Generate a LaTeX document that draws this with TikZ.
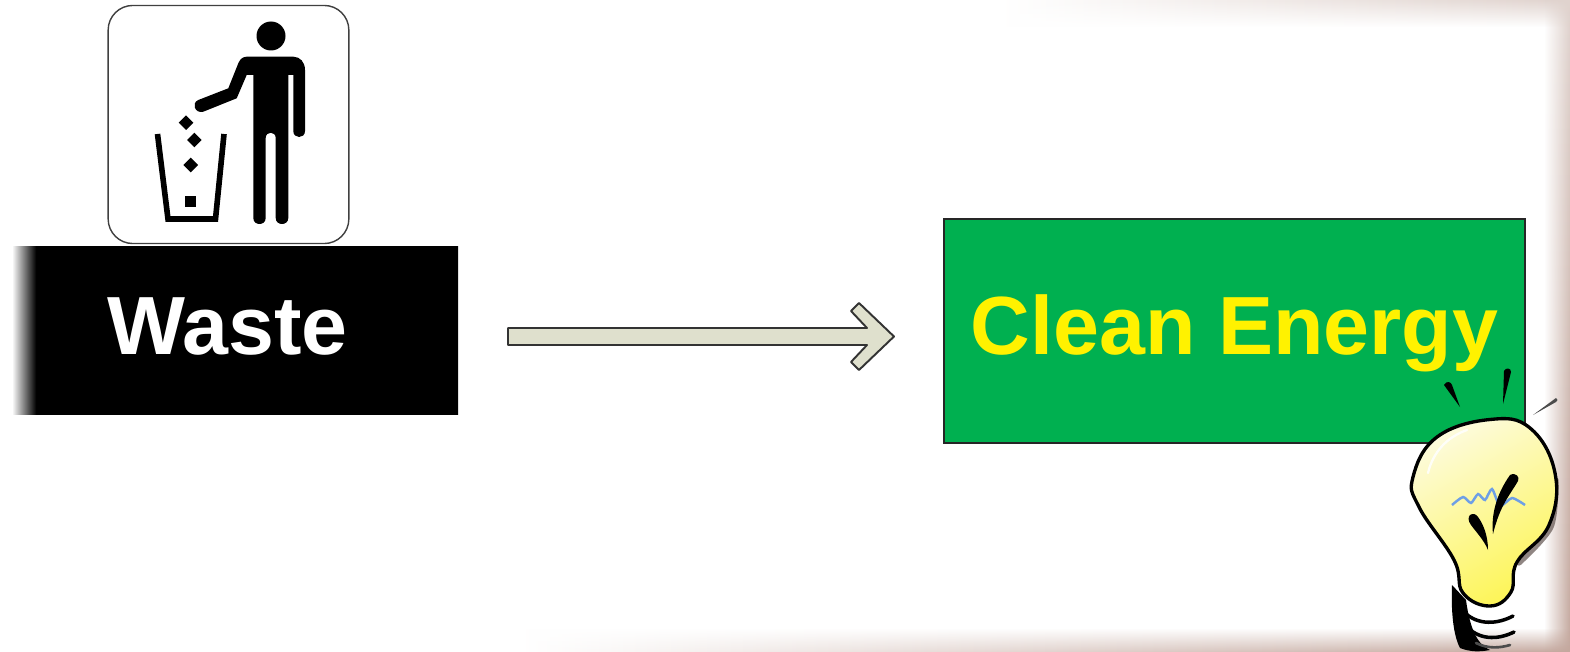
\documentclass[tikz,border=0pt]{standalone}
\usepackage{fontspec}
\setmainfont{Liberation Sans}
\usetikzlibrary{arrows.meta,positioning,fadings}
\definecolor{framebrown}{HTML}{C4A89E}
\definecolor{framepale}{HTML}{E0D3CE}
\definecolor{energygreen}{HTML}{00B050}
\definecolor{arrowfill}{HTML}{DFE0CD}
\definecolor{bulbpale}{HTML}{FDFBDC}
\definecolor{bulbyellow}{HTML}{FDF557}
\definecolor{sparkblue}{HTML}{6E9FE6}
\tikzfading[name=fadeleft,left color=transparent!100,right color=transparent!0]
\tikzfading[name=fadedown,top color=transparent!100,bottom color=transparent!0]
\tikzfading[name=fadeup,top color=transparent!0,bottom color=transparent!100]
\pgfdeclarehorizontalshading{wasteshade}{100bp}{color(0bp)=(white); color(25bp)=(white); color(27.7bp)=(black); color(100bp)=(black)}

\begin{document}
\begin{tikzpicture}[x=0.02cm,y=-0.02cm]
\tikzset{
  labelfont/.style={font=\fontsize{47}{50}\selectfont\bfseries},
  signbox/.style={rectangle,draw=black!75,fill=white,line width=0.8pt,rounded corners=14pt,minimum width=137pt,minimum height=135.5pt,inner sep=0pt},
  wastelabel/.style={labelfont,text=white,anchor=base,inner sep=0pt},
  energybox/.style={rectangle,draw=black!85,fill=energygreen,line width=0.9pt,minimum width=331pt,minimum height=127.5pt,inner sep=0pt,labelfont,text=yellow,text height=37pt,text depth=9.7pt},
  flowarrow/.style={draw=black!80,fill=arrowfill,line width=1.1pt,line join=round},
  pictogram/.style={fill=black,line join=round},
  ray/.style={fill=black}
}
\fill[white] (0,0) rectangle (1570,652);
\useasboundingbox (0,0) rectangle (1570,652);
% soft frame
\shade[left color=white,right color=framepale,path fading=fadeup] (1000,0) rectangle (1570,27);
\shade[left color=white,right color=framebrown,path fading=fadedown] (520,628) rectangle (1570,652);
\shade[top color=framepale,bottom color=framebrown,path fading=fadeleft] (1544,0) rectangle (1570,652);
% sign
\node[signbox] (n_sign) at (228.5,124.5) {};
\fill[pictogram] (271,36) circle (14.5);
\fill[pictogram] (246.7,56.7) -- (293.3,56.7) .. controls (300,56.7) and (305,62) .. (305,70) -- (305,131) .. controls (305,139) and (293.3,139) .. (293.3,131) -- (293.3,75) -- (288.3,75) -- (288.3,218) .. controls (288.3,226) and (275.7,226) .. (275.7,218) -- (275.7,138) .. controls (275.7,131) and (265.7,131) .. (265.7,138) -- (265.7,218) .. controls (265.7,226) and (253.3,226) .. (253.3,218) -- (253.3,75) -- (246.7,75) -- (236.7,98.3) -- (203.3,111.7) .. controls (195,114) and (191,103) .. (198.3,100) -- (228.3,88.3) -- (238.3,63.3) .. controls (240,59) and (243,56.7) .. (246.7,56.7) -- cycle;
\draw[line width=3.2pt,line join=miter] (157.5,134) -- (168,219) -- (215.5,219) -- (224,134);
\foreach \cx/\cy in {186/122.7,194.3/140,190.7/165}
  \fill[pictogram] (\cx-7.3,\cy) -- (\cx,\cy-7.3) -- (\cx+7.3,\cy) -- (\cx,\cy+7.3) -- cycle;
\fill[pictogram] (184.5,196.5) rectangle (195.5,207.5);
% waste
\shade[shading=wasteshade] (12,246) rectangle (458,414);
\node[wastelabel] (n_waste) at (227.5,354) {Waste};
% energy
\node[energybox] (n_energy) at (1234.5,331) {Clean Energy};
% arrow
\coordinate (c_tail) at (508,336.5);
\coordinate (c_tip) at (894,336.5);
\draw[flowarrow] (c_tail) ++(0,-8.5) -- ++(359,0) -- ++(-16,-17) -- ++(8,-8) -- (c_tip) -- ++(-35,33.5) -- ++(-8,-8) -- ++(16,-17) -- ++(-359,0) -- cycle;
% bulb
\fill[ray] (1444,385) .. controls (1447,380) and (1451,382) .. (1452,385) -- (1460,407) -- cycle;
\fill[ray] (1504,371) .. controls (1506,367) and (1511,368) .. (1511,372) -- (1503,404) -- cycle;
\fill[black!70] (1556,398) .. controls (1558,399) and (1558,401) .. (1556,402) -- (1533,415) -- cycle;
\fill[black] (1452,585) .. controls (1451,610) and (1453,635) .. (1460,648) .. controls (1470,652) and (1480,652) .. (1490,650) .. controls (1478,645) and (1470,630) .. (1466,600) -- cycle;
\draw[black,line width=2pt,line cap=round] (1464,612) .. controls (1478,626) and (1498,624) .. (1513,616);
\draw[black,line width=2pt,line cap=round] (1468,628) .. controls (1482,641) and (1500,639) .. (1514,632);
\draw[black!70,line width=1.5pt,line cap=round] (1476,643) .. controls (1488,649) and (1500,648) .. (1510,645);
\draw[black!50!framebrown,line width=3pt,line cap=round,opacity=0.7] plot[smooth] coordinates {(1556,480) (1551,527) (1519,563)};
\shade[top color=bulbpale,bottom color=bulbyellow,shading angle=30,draw=black,line width=1.9pt] plot[smooth cycle,tension=0.7] coordinates {(1490,419.5) (1530,428) (1555,473) (1549,525) (1517,562) (1511,592) (1490,606) (1463,593) (1454,560) (1419,507) (1413,477) (1437,437)};
\draw[white,line width=1.3pt,line cap=round,opacity=0.85] (1428,473) .. controls (1433,452) and (1447,437) .. (1467,430);
\draw[sparkblue,line width=1.4pt] plot[smooth,tension=0.4] coordinates {(1452,505) (1463,497) (1471,503) (1478,494) (1485,500) (1492,489) (1500,506) (1512,498) (1525,505)};
\fill[black] (1510,475) .. controls (1516,472) and (1520,477) .. (1518,481) .. controls (1510,495) and (1500,505) .. (1493,534) .. controls (1491,515) and (1496,495) .. (1510,475) -- cycle;
\fill[black] (1470,515) .. controls (1473,513) and (1476,514) .. (1478,517) .. controls (1484,525) and (1488,537) .. (1488,550) .. controls (1484,540) and (1476,532) .. (1471,525) .. controls (1468,521) and (1468,517) .. (1470,515) -- cycle;
\end{tikzpicture}
\end{document}
